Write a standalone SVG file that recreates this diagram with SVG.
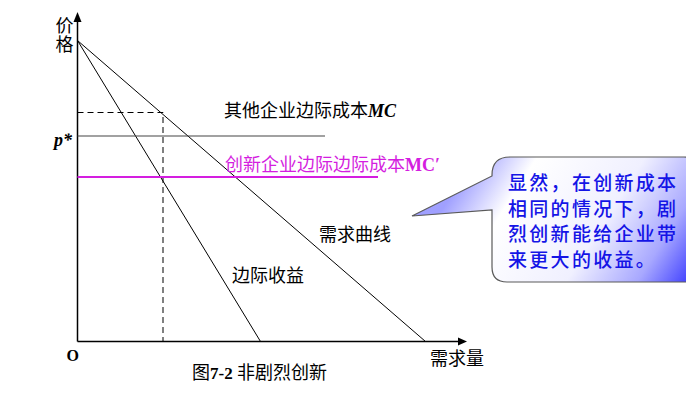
<svg xmlns="http://www.w3.org/2000/svg" width="686" height="420" viewBox="0 0 686 420">
<defs>
<style>
.cjk{font-family:"Noto Sans CJK SC","Noto Sans CJK JP",sans-serif;font-size:18px;fill:#000}
.lat{font-family:"Liberation Serif","Times New Roman",serif;font-weight:bold}
.ax{stroke:#000;stroke-width:1.5;fill:none}
.cv{stroke:#000;stroke-width:1;fill:none}
.dash{stroke:#000;stroke-width:1;stroke-dasharray:6,4;fill:none}
.call{font-family:"Noto Sans CJK SC","Noto Sans CJK JP",sans-serif;font-size:19px;font-weight:500;fill:#1414e6;letter-spacing:2.3px}
</style>
<linearGradient id="g" gradientUnits="userSpaceOnUse" x1="480" y1="150" x2="700" y2="290">
<stop offset="0" stop-color="#a0a0ff"/>
<stop offset="0.2" stop-color="#ffffff"/>
<stop offset="0.55" stop-color="#f0f0ff"/>
<stop offset="0.78" stop-color="#a8a8ff"/>
<stop offset="1" stop-color="#2020ff"/>
</linearGradient>
</defs>
<rect width="686" height="420" fill="#fff"/>
<g id="axes">
<line class="ax" x1="77.5" y1="341.5" x2="77.5" y2="21"/>
<polygon points="77.5,12 73.5,22 81.5,22" fill="#000"/>
<line class="ax" x1="77.5" y1="341.5" x2="459" y2="341.5"/>
<polygon points="467,341.5 458,337.5 458,345.5" fill="#000"/>
</g>
<g id="connectors">
<line id="demand" class="cv" x1="77.5" y1="40.5" x2="425.5" y2="341.5"/>
<line id="mr" class="cv" x1="77.5" y1="40.5" x2="260.5" y2="341.5"/>
<polyline class="dash" points="77.5,112.5 163,112.5 163,341.5"/>
<line id="mc" x1="77.5" y1="136" x2="325" y2="136" stroke="#444" stroke-width="1.2"/>
<line id="mc2" x1="77.5" y1="177" x2="378" y2="177" stroke="#d41ee0" stroke-width="2.2"/>
</g>
<g id="labels">
<text class="cjk" x="64.5" y="16" writing-mode="vertical-rl" style="letter-spacing:1px">价格</text>
<text class="lat" x="54" y="146" font-size="18" font-style="italic">p*</text>
<text class="lat" x="66.5" y="360.5" font-size="16">O</text>
<text class="cjk" x="224" y="116.5">其他企业边际成本<tspan class="lat" font-style="italic" font-size="18">MC</tspan></text>
<text class="cjk" x="225" y="171" style="fill:#d41ee0">创新企业边际边际成本<tspan class="lat" font-size="18">MC′</tspan></text>
<text class="cjk" x="319" y="241">需求曲线</text>
<text class="cjk" x="232" y="281.5">边际收益</text>
<text class="cjk" x="430" y="364.5">需求量</text>
<text class="cjk" x="192" y="378.5">图<tspan class="lat" font-size="17">7-2 </tspan>非剧烈创新</text>
</g>
<g id="callout">
<path d="M510,157 H684 Q702,157 702,175 V266 Q702,282 686,282 H507 Q492,282 492,267 V210 L412,216 L492,176 V175 Q492,157 510,157 Z" fill="url(#g)" stroke="#5a5a5a" stroke-width="1.2"/>
<text class="call"><tspan x="508" y="190">显然，在创新成本</tspan><tspan x="508" y="215.7">相同的情况下，剧</tspan><tspan x="508" y="241.4">烈创新能给企业带</tspan><tspan x="508" y="267">来更大的收益。</tspan></text>
</g>
</svg>
